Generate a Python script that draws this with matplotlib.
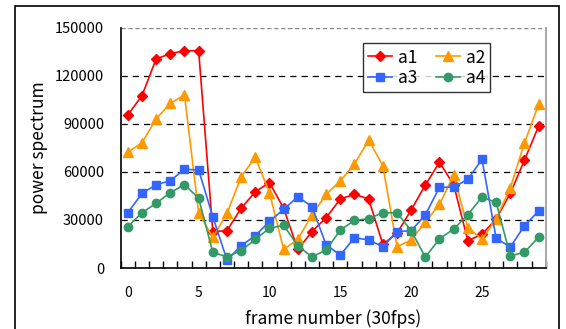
import matplotlib
matplotlib.use("Agg")
import matplotlib.pyplot as plt
import numpy as np
from matplotlib.patches import Rectangle

plt.rcParams['font.family'] = ['Noto Sans CJK JP', 'DejaVu Sans']

frames = list(range(30))

a1 = [95500, 107600, 130500, 133800, 135600, 135600, 22700, 23300, 37300, 47600,
      53300, 37300, 11600, 22700, 31400, 43100, 46000, 43100, 14800, 21700,
      36200, 51800, 66000, 52000, 17100, 21000, 30600, 46600, 67400, 88600]
a2 = [72200, 78200, 93000, 102800, 108000, 34500, 19100, 34100, 57000, 69100,
      47000, 11600, 17900, 33100, 46000, 54300, 64900, 79900, 63900, 13300,
      17500, 28600, 39700, 58000, 25200, 17900, 30600, 50100, 78000, 102200]
a3 = [34500, 46600, 52000, 54500, 61600, 61200, 32000, 5000, 13900, 20200,
      29100, 36600, 44500, 38300, 14400, 8100, 18900, 17500, 13300, 22700,
      23300, 33100, 50400, 50400, 55400, 67800, 18500, 13100, 26400, 35600]
a4 = [25800, 34500, 40400, 47000, 52100, 43500, 9800, 7000, 10900, 17900,
      24800, 26700, 13800, 7000, 11200, 23700, 29700, 30800, 34500, 34500,
      23300, 6800, 18200, 24300, 33300, 44300, 40900, 7600, 9800, 19300]

series = [("a1", a1, "#FF0000", "D", 5.5),
          ("a2", a2, "#FF9900", "^", 7),
          ("a3", a3, "#3366FF", "s", 6),
          ("a4", a4, "#339966", "o", 6)]

fig = plt.figure(figsize=(5.66, 3.29), dpi=100)
ax = fig.add_axes([0.2133, 0.1854, 0.7509, 0.7304])

lines = {}
for name, vals, col, mk, ms in series:
    lines[name], = ax.plot(frames, vals, color=col, marker=mk, markersize=ms,
                           linewidth=1.2, label=name)

ax.set_xlim(-0.5, 29.5)
ax.set_ylim(0, 150000)
ax.set_yticks([0, 30000, 60000, 90000, 120000, 150000])
ax.set_xticks([0, 5, 10, 15, 20, 25])
ax.set_xticks(np.arange(-0.5, 30, 1), minor=True)
ax.tick_params(axis='x', which='major', length=0, pad=13, labelsize=10)
ax.tick_params(axis='x', which='minor', direction='in', length=5, width=1)
ax.tick_params(axis='y', length=0, pad=12, labelsize=10.5)

for y in [30000, 60000, 90000, 120000]:
    ax.axhline(y, color='black', linestyle=(0, (5, 4)), linewidth=0.9, zorder=0)
ax.axhline(150000, color='#888888', linestyle=(0, (3, 2)), linewidth=1, zorder=0)

ax.spines['top'].set_visible(False)
ax.spines['right'].set_color('#AAAAAA')
ax.spines['right'].set_linewidth(1.5)
ax.spines['left'].set_linewidth(1.2)
ax.spines['bottom'].set_linewidth(1.2)

ax.set_xlabel('frame number (30fps)', fontsize=12.5, labelpad=7)
ax.set_ylabel('power spectrum', fontsize=12.5, labelpad=5)

# legend rows: a1 a2 / a3 a4 (matplotlib fills by column)
order = ["a1", "a3", "a2", "a4"]
leg = ax.legend([lines[n] for n in order], order, ncol=2, loc='upper left',
                bbox_to_anchor=(0.570, 0.935),
                frameon=True, fancybox=False, edgecolor='black', fontsize=12.5,
                handlelength=1.35, columnspacing=1.1, borderpad=0.3,
                labelspacing=0.15, handletextpad=0.35, borderaxespad=0)
leg.get_frame().set_linewidth(1.0)

fig.patches.append(Rectangle((15 / 566, -0.02), 544 / 566, 1 - 6 / 329 + 0.02,
                             transform=fig.transFigure, fill=False,
                             edgecolor='black', linewidth=1.2))

fig.savefig('out.png', dpi=100)
